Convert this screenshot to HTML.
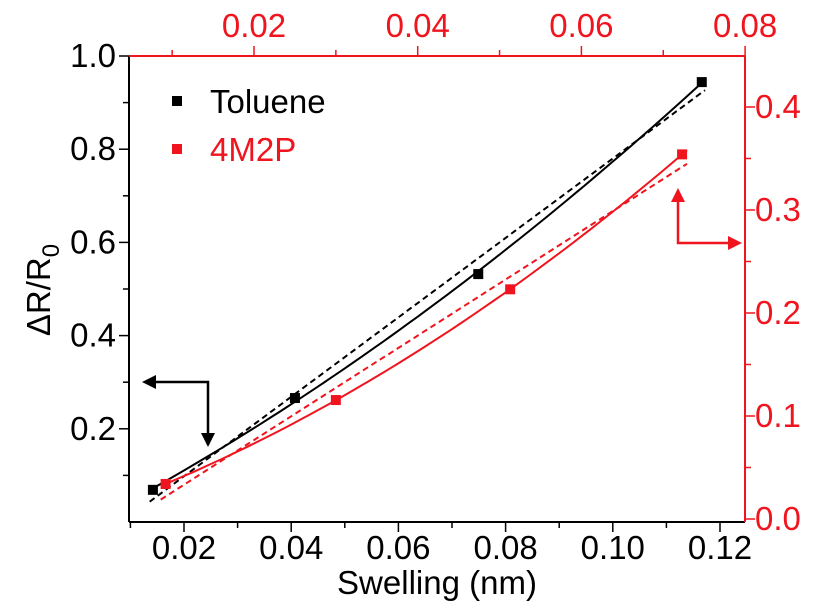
<!DOCTYPE html>
<html><head><meta charset="utf-8"><style>
html,body{margin:0;padding:0;background:#fff;}
svg{display:block;font-family:"Liberation Sans",Arial,sans-serif;}
</style></head><body>
<svg id="chart" width="820" height="608" viewBox="0 0 820 608" xmlns="http://www.w3.org/2000/svg"></svg>
<script>
// Data
const tolueneX = [0.0142, 0.0407, 0.0749, 0.1166];
const tolueneY = [0.069, 0.266, 0.532, 0.944];
const m2pX = [0.0092, 0.0300, 0.0513, 0.0723];
const m2pY = [0.034, 0.1155, 0.223, 0.354];
const bottomTicks = [0.02, 0.04, 0.06, 0.08, 0.10, 0.12];
const bottomTickLabels = ["0.02", "0.04", "0.06", "0.08", "0.10", "0.12"];
const topTicks = [0.02, 0.04, 0.06, 0.08];
const topTickLabels = ["0.02", "0.04", "0.06", "0.08"];
const leftTicks = [0.2, 0.4, 0.6, 0.8, 1.0];
const leftTickLabels = ["0.2", "0.4", "0.6", "0.8", "1.0"];
const rightTicks = [0.0, 0.1, 0.2, 0.3, 0.4];
const rightTickLabels = ["0.0", "0.1", "0.2", "0.3", "0.4"];

const L = 129, R = 745, T = 56, B = 522;
const RED = "#f0141e";
const FS = 33;
const xB = v => 184 + (v - 0.02) / 0.02 * 107.2;
const xT = v => 254 + (v - 0.02) / 0.02 * 163.7;
const yL = v => 522 - v * 466;
const yR = v => 519 - v * 1030;

const svg = document.getElementById('chart');
const NS = "http://www.w3.org/2000/svg";
function mk(tag, attrs, parent) {
  const e = document.createElementNS(NS, tag);
  for (const k in attrs) e.setAttribute(k, attrs[k]);
  (parent || svg).appendChild(e);
  return e;
}

let e;
e = mk('line', {x1: L, y1: B, x2: R, y2: B, stroke: '#000', 'stroke-width': 2});


e = mk('line', {x1: L, y1: T, x2: L, y2: B, stroke: '#000', 'stroke-width': 2});


e = mk('line', {x1: L, y1: T, x2: R, y2: T, stroke: RED, 'stroke-width': 2});


e = mk('line', {x1: R, y1: T, x2: R, y2: B, stroke: RED, 'stroke-width': 2});



for (let v = 0.01; v <= 0.1201; v += 0.01) {
  const major = Math.round(v * 100) % 2 === 0;
  e = mk('line', {x1: xB(v), y1: B, x2: xB(v), y2: B + (major ? 10 : 6), stroke: '#000', 'stroke-width': 1.5});
  
  
}
bottomTicks.forEach((v, i) => {
  e = mk('text', {x: xB(v), y: 559, 'font-size': FS, 'text-anchor': 'middle', fill: '#000'});
  e.textContent = bottomTickLabels[i];
  
  
});
for (let v = 0.01; v <= 0.0801; v += 0.01) {
  const major = Math.round(v * 100) % 2 === 0;
  e = mk('line', {x1: xT(v), y1: T, x2: xT(v), y2: T - (major ? 10 : 6), stroke: RED, 'stroke-width': 1.5});
  
  
}
topTicks.forEach((v, i) => {
  e = mk('text', {x: xT(v), y: 37, 'font-size': FS, 'text-anchor': 'middle', fill: RED});
  e.textContent = topTickLabels[i];
  
  
});
for (let v = 0.1; v <= 1.0001; v += 0.1) {
  const major = Math.round(v * 10) % 2 === 0;
  e = mk('line', {x1: L, y1: yL(v), x2: L - (major ? 10 : 6), y2: yL(v), stroke: '#000', 'stroke-width': 1.5});
  
  
}
leftTicks.forEach((v, i) => {
  e = mk('text', {x: L - 13, y: yL(v) + 11, 'font-size': FS, 'text-anchor': 'end', fill: '#000'});
  e.textContent = leftTickLabels[i];
  
  
});
for (let v = 0.0; v <= 0.4001; v += 0.05) {
  const major = Math.round(v * 20) % 2 === 0;
  e = mk('line', {x1: R, y1: yR(v), x2: R + (major ? 10 : 6), y2: yR(v), stroke: RED, 'stroke-width': 1.5});
  
  
}
rightTicks.forEach((v, i) => {
  e = mk('text', {x: R + 10, y: yR(v) + 11, 'font-size': FS, 'text-anchor': 'start', fill: RED});
  e.textContent = rightTickLabels[i];
  
  
});

e = mk('text', {x: 437, y: 594, 'font-size': FS, 'text-anchor': 'middle', fill: '#000'});
e.textContent = 'Swelling (nm)';


e = mk('text', {x: 0, y: 0, 'font-size': FS, 'text-anchor': 'middle', fill: '#000', transform: 'translate(50,290) rotate(-90)'});
e.innerHTML = 'ΔR/R<tspan font-size="24" dy="9">0</tspan>';



function linFit(xs, ys) {
  const n = xs.length; let sx = 0, sy = 0, sxx = 0, sxy = 0;
  for (let i = 0; i < n; i++) { sx += xs[i]; sy += ys[i]; sxx += xs[i] * xs[i]; sxy += xs[i] * ys[i]; }
  const b = (n * sxy - sx * sy) / (n * sxx - sx * sx); return [ (sy - b * sx) / n, b ];
}
function quadFit(xs, ys) {
  const S = [[0,0,0],[0,0,0],[0,0,0]], V = [0,0,0];
  for (let i = 0; i < xs.length; i++) {
    const p = [1, xs[i], xs[i] * xs[i]];
    for (let r = 0; r < 3; r++) { V[r] += p[r] * ys[i]; for (let c = 0; c < 3; c++) S[r][c] += p[r] * p[c]; }
  }
  for (let k = 0; k < 3; k++) for (let r = k + 1; r < 3; r++) {
    const f = S[r][k] / S[k][k];
    for (let c = k; c < 3; c++) S[r][c] -= f * S[k][c]; V[r] -= f * V[k];
  }
  const s = [0,0,0];
  for (let r = 2; r >= 0; r--) { let t = V[r]; for (let c = r + 1; c < 3; c++) t -= S[r][c] * s[c]; s[r] = t / S[r][r]; }
  return s;
}
function drawFit(xs, ys, fx, fy, color, name) {
  const x0 = xs[0] - 0.0006, x1 = xs[xs.length - 1] + 0.0006;
  const lf = linFit(xs, ys), qf = quadFit(xs, ys);
  let d1 = '', d2 = '';
  for (let k = 0; k <= 60; k++) {
    const x = x0 + (x1 - x0) * k / 60;
    d1 += (k ? 'L' : 'M') + fx(x).toFixed(1) + ',' + fy(lf[0] + lf[1] * x).toFixed(1);
    d2 += (k ? 'L' : 'M') + fx(x).toFixed(1) + ',' + fy(qf[0] + qf[1] * x + qf[2] * x * x).toFixed(1);
  }
  let p = mk('path', {d: d1, fill: 'none', stroke: color, 'stroke-width': 2, 'stroke-dasharray': '6,4'});
  
  
  p = mk('path', {d: d2, fill: 'none', stroke: color, 'stroke-width': 2});
  
  
}
drawFit(tolueneX, tolueneY, xB, yL, '#000', 'toluene');
drawFit(m2pX, m2pY, xT, yR, RED, '4m2p');

tolueneX.forEach((x, i) => {
  e = mk('rect', {x: xB(x) - 5, y: yL(tolueneY[i]) - 5, width: 10, height: 10, fill: '#000'});
  
  
});
m2pX.forEach((x, i) => {
  e = mk('rect', {x: xT(x) - 5, y: yR(m2pY[i]) - 5, width: 10, height: 10, fill: RED});
  
  
});

e = mk('rect', {x: 172, y: 96, width: 10, height: 10, fill: '#000'});


e = mk('text', {x: 210, y: 113, 'font-size': FS, fill: '#000'});
e.textContent = 'Toluene';


e = mk('rect', {x: 172, y: 144, width: 10, height: 10, fill: RED});


e = mk('text', {x: 210, y: 161, 'font-size': FS, fill: RED});
e.textContent = '4M2P';



e = mk('path', {d: 'M208,445 L208,382 L152,382', fill: 'none', stroke: '#000', 'stroke-width': 2.5});


mk('path', {d: 'M142,382 L156,375 L156,389 Z', fill: '#000'});
mk('path', {d: 'M208,447 L201,433 L215,433 Z', fill: '#000'});
e = mk('path', {d: 'M678,198 L678,243 L734,243', fill: 'none', stroke: RED, 'stroke-width': 2.5});


mk('path', {d: 'M678,188 L671,202 L685,202 Z', fill: RED});
mk('path', {d: 'M742,243 L728,236 L728,250 Z', fill: RED});
</script>
</body></html>
